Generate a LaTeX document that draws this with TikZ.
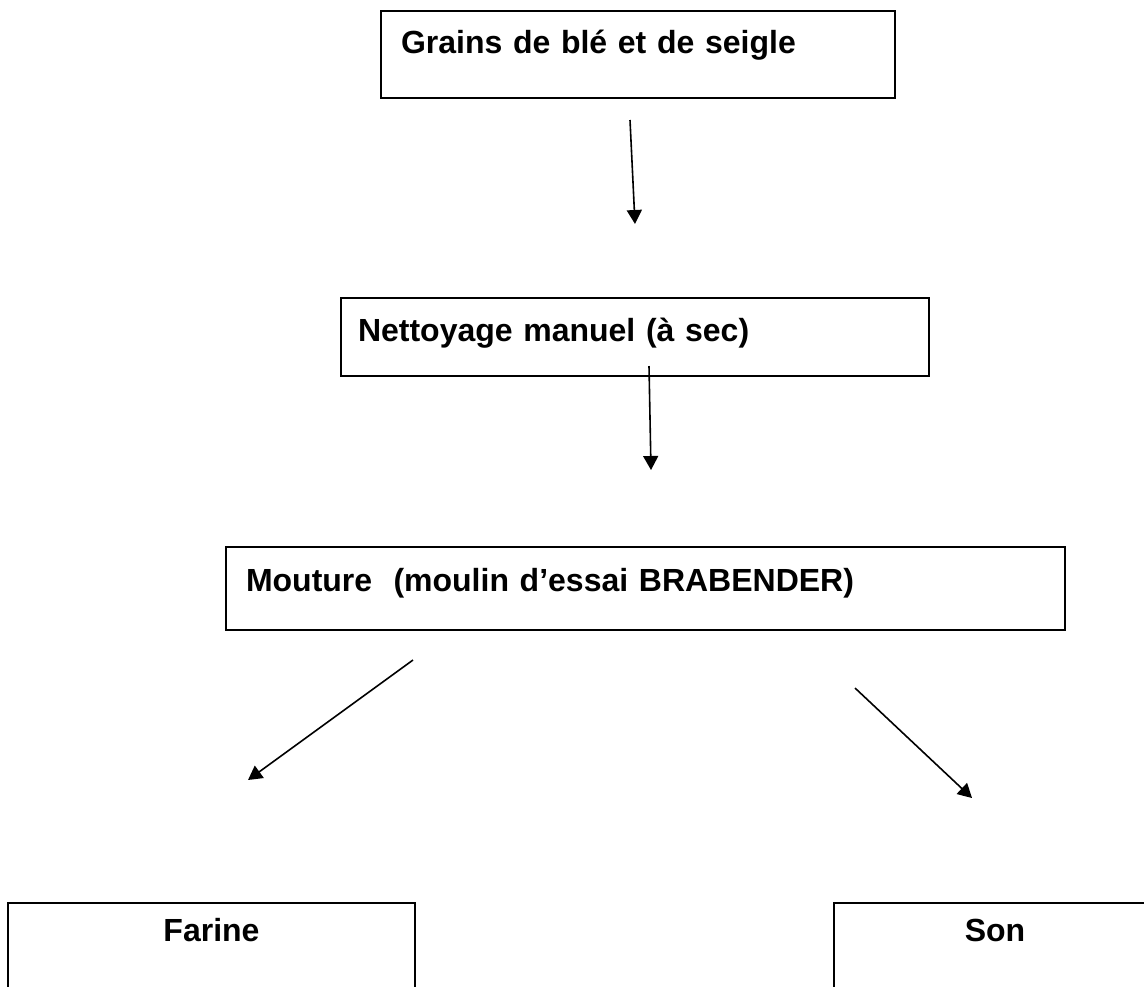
\documentclass[tikz,border=0pt]{standalone}
\usepackage{fontspec}
\setmainfont{Liberation Sans}
\usetikzlibrary{arrows.meta}
\tikzstyle{block} = [rectangle, draw, line width=1pt, anchor=north west, inner ysep=0pt, inner xsep=10pt, align=left, font=\bfseries\fontsize{16}{19}\selectfont]
\tikzstyle{line} = [draw, line width=0.8pt, -{Triangle[length=7pt,width=7.5pt]}]

\begin{document}
\begin{tikzpicture}[x=0.5pt,y=-0.5pt]
\useasboundingbox [fill=white] (0,0) rectangle (1144,986);
\node [block, text width=237pt, text height=21pt, text depth=22.5pt] (grains) at (380,10) {Grains de blé et de seigle};
\node [block, inner xsep=8.5pt, text width=277pt, text height=21.5pt, text depth=17.5pt] (nettoyage) at (340,297) {Nettoyage manuel (à sec)};
\node [block, text width=399.5pt, text height=22pt, text depth=19.5pt] (mouture) at (225,546) {Mouture~ (moulin d’essai BRABENDER)};
\node [block, align=center, text width=183.5pt, text height=19pt, text depth=30pt] (farine) at (7,902) {Farine};
\node [block, align=center, text width=141pt, text height=19pt, text depth=30pt] (son) at (833,902) {Son};
\coordinate (a1) at (630,120);
\coordinate (b1) at (635,224);
\coordinate (a2) at (649,366);
\coordinate (b2) at (651,470);
\coordinate (a3) at (413,660);
\coordinate (b3) at (248,780);
\coordinate (a4) at (855,688);
\coordinate (b4) at (972,798);
\path [line] (a1) -- (b1);
\path [line] (a2) -- (b2);
\path [line] (a3) -- (b3);
\path [line] (a4) -- (b4);
\end{tikzpicture}
\end{document}
